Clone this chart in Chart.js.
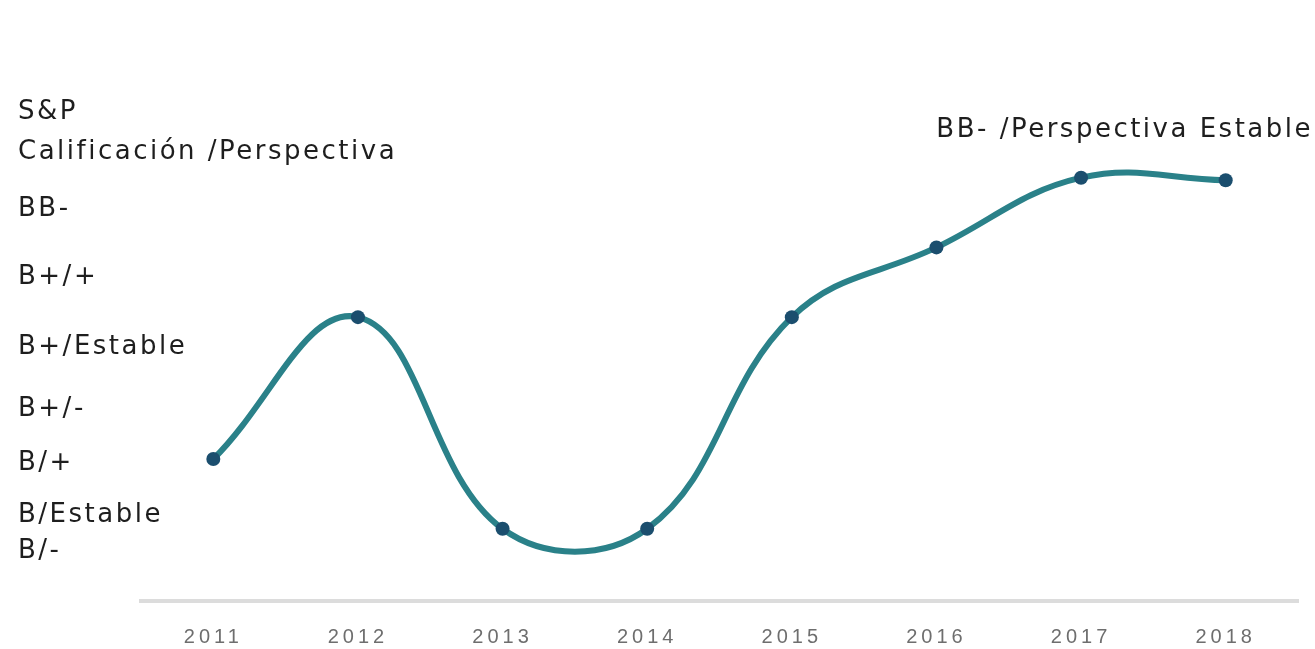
<!DOCTYPE html>
<html lang="es">
<head>
<meta charset="utf-8">
<title>S&amp;P Calificación</title>
<script src="https://cdn.jsdelivr.net/npm/chart.js@4/dist/chart.umd.min.js"></script>
<style>
    html, body { margin: 0; padding: 0; background: #fff; overflow: hidden; }
    #wrap { width: 1315px; height: 649px; }
</style>
</head>
<body>
<div id="wrap"><canvas id="ratingChart"></canvas></div>
<script>
// años (eje x)
const years = ["2011", "2012", "2013", "2014", "2015", "2016", "2017", "2018"];
// calificación (escala relativa)
const ratingValues = [2.85, 5.7, 1.45, 1.45, 5.7, 7.1, 8.5, 8.45];
// etiquetas del eje y y su posición en la misma escala
const ratingLabels = ["B/-", "B/Estable", "B/+", "B+/-", "B+/Estable", "B+/+", "BB-"];
const ratingLevels = [1.0, 1.72, 2.76, 3.86, 5.1, 6.5, 7.86];

const LABEL_FONT = '26px "DejaVu Sans", sans-serif';

// etiquetas de texto a la izquierda y nota de la derecha
const textPlugin = {
    id: "ratingText",
    beforeDraw(chart) {
        // espaciado de letras para las etiquetas del eje x
        chart.ctx.letterSpacing = "4px";
    },
    afterDraw(chart) {
        const ctx = chart.ctx;
        const y = chart.scales.y;
        ctx.save();
        ctx.font = LABEL_FONT;
        ctx.fillStyle = "#1e1e1e";
        ctx.textBaseline = "middle";
        ctx.textAlign = "left";
        ctx.letterSpacing = "2.5px";
        ratingLabels.forEach(function (lbl, i) {
            ctx.fillText(lbl, 18, y.getPixelForValue(ratingLevels[i]));
        });
        ctx.fillText("S&P", 18, 112);
        ctx.fillText("Calificación /Perspectiva", 18, 152);
        ctx.textAlign = "right";
        ctx.fillText("BB- /Perspectiva Estable", 1313, 130);
        ctx.restore();
        ctx.letterSpacing = "0px";
    }
};

document.addEventListener("DOMContentLoaded", function () {
    const ctx = document.getElementById("ratingChart").getContext("2d");
    new Chart(ctx, {
        type: "line",
        data: {
            labels: years,
            datasets: [{
                label: "S&P",
                data: ratingValues,
                borderColor: "#2a8189",
                borderWidth: 6,
                tension: 0.4,
                pointRadius: 7,
                pointBackgroundColor: "#1b4e6e",
                pointBorderColor: "#1b4e6e",
                pointBorderWidth: 0,
                fill: false
            }]
        },
        options: {
            responsive: true,
            maintainAspectRatio: false,
            animation: false,
            layout: { padding: { left: 141, right: 17, top: 103, bottom: -24 } },
            plugins: {
                legend: { display: false },
                tooltip: { enabled: false }
            },
            scales: {
                x: {
                    offset: true,
                    grid: { display: false, drawTicks: false },
                    border: { display: true, color: "#dcdcdc", width: 4 },
                    ticks: {
                        color: "#6e6e6e",
                        padding: 24,
                        font: { family: '"Liberation Sans", sans-serif', size: 20 }
                    }
                },
                y: {
                    display: false,
                    min: 0,
                    max: 10
                }
            }
        },
        plugins: [textPlugin]
    });
});
</script>
</body>
</html>
